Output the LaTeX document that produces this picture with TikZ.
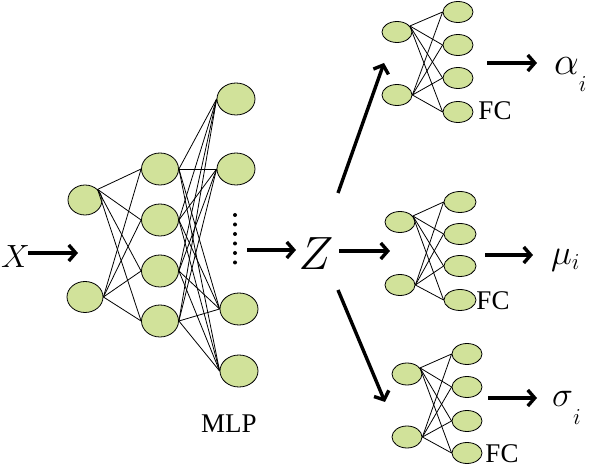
\documentclass[tikz,border=0pt]{standalone}
\usepackage{graphicx}
\usepackage{fontspec}
\setmainfont{Liberation Serif}
\usetikzlibrary{shapes.geometric,arrows.meta}
\definecolor{ngreen}{RGB}{209,226,154}
\newcommand\mymath[2]{\scalebox{#1}{\fontsize{20}{20}\selectfont$#2$}}
\begin{document}
\begin{tikzpicture}[x=1pt,y=-1pt,
  neuron/.style={ellipse,draw=black,fill=ngreen,line width=0.8pt,inner sep=0pt,minimum width=37pt,minimum height=32pt},
  sneuron/.style={neuron,minimum width=30pt,minimum height=21pt},
  link/.style={line width=0.8pt},
  arr/.style={line width=3.4pt,-{Straight Barb[length=7pt,width=16pt]}},
  lbl/.style={inner sep=0pt}]
\useasboundingbox (0,0) rectangle (590,470);

% MLP
\node[neuron,minimum width=34pt,minimum height=30pt] (a1) at (85,200) {};
\node[neuron,minimum width=36pt,minimum height=31pt] (a2) at (85,297) {};
\foreach \n/\y in {1/169,2/220,3/271,4/321} \node[neuron] (b\n) at (160,\y) {};
\node[neuron,minimum width=38pt] (c1) at (236,99) {};
\node[neuron,minimum width=38pt] (c2) at (236,169) {};
\node[neuron,minimum width=38pt] (c3) at (239,309) {};
\node[neuron,minimum width=38pt] (c4) at (239,371) {};
\foreach \j in {1,...,4} {
  \draw[link] (a1.40) -- (b\j.west);
  \draw[link] (a2.east) -- (b\j.west);
  \foreach \k in {1,...,4} \draw[link] (b\j.east) -- (c\k.west);
}
\foreach \y in {215,224.5,234,243.5,253,262.5} \fill (235,\y) circle (2pt);

% FC blocks
\node[sneuron] (tl1) at (397,32) {};
\node[sneuron] (tl2) at (397,95) {};
\foreach \n/\y in {1/12,2/45,3/78,4/112} \node[sneuron] (tr\n) at (458,\y) {};
\node[sneuron] (ml1) at (400,222) {};
\node[sneuron] (ml2) at (400,285) {};
\foreach \n/\y in {1/202,2/234,3/266,4/300} \node[sneuron,minimum width=32pt] (mr\n) at (460,\y) {};
\node[sneuron,minimum height=22pt] (bl1) at (407,374) {};
\node[sneuron,minimum height=22pt] (bl2) at (407,437) {};
\foreach \n/\y in {1/354,2/387,3/421,4/453} \node[sneuron] (br\n) at (467,\y) {};
\foreach \p in {t,m,b} {
  \foreach \j in {1,...,4} {
    \draw[link] (\p l1.25) -- (\p r\j.west);
    \draw[link] (\p l2.east) -- (\p r\j.west);
  }
}

% labels
\node[lbl,anchor=west] (X) at (1,257) {\mymath{1.55}{X}};
\node[lbl] (Z) at (316,254) {\mymath{2.25}{Z}};
\node[lbl] (mlp) at (229,424) {\fontsize{27}{27}\selectfont MLP};
\node[lbl] (fct) at (495,111) {\fontsize{27}{27}\selectfont FC};
\node[lbl] (fcm) at (493,301) {\fontsize{27}{27}\selectfont FC};
\node[lbl] (fcb) at (502,454) {\fontsize{27}{27}\selectfont FC};
\node[lbl,anchor=base west] (alpha) at (554,75) {\mymath{1.9}{\alpha}\raisebox{-17pt}{\mymath{1.1}{i}}};
\node[lbl,anchor=base west] (mu) at (551,265) {\mymath{1.7}{\mu}\raisebox{-5pt}{\mymath{1.1}{i}}};
\node[lbl,anchor=base west] (sigma) at (552,407) {\mymath{1.7}{\sigma}\raisebox{-18pt}{\mymath{1.1}{i}}};

% arrows
\coordinate (xs) at (28,253); \coordinate (xe) at (78,253);
\coordinate (ds) at (247,250); \coordinate (de) at (296,250);
\coordinate (zs) at (339,251); \coordinate (ze) at (390,251);
\coordinate (us) at (338,193); \coordinate (ue) at (384,63);
\coordinate (ls) at (338,290); \coordinate (le) at (385,402);
\coordinate (ts) at (487,63); \coordinate (te) at (537,63);
\coordinate (ms) at (485,255); \coordinate (me) at (533,255);
\coordinate (bs) at (488,398); \coordinate (be) at (537,398);
\foreach \s/\e in {xs/xe,ds/de,zs/ze,us/ue,ls/le,ts/te,ms/me,bs/be} \draw[arr] (\s) -- (\e);
\end{tikzpicture}
\end{document}
